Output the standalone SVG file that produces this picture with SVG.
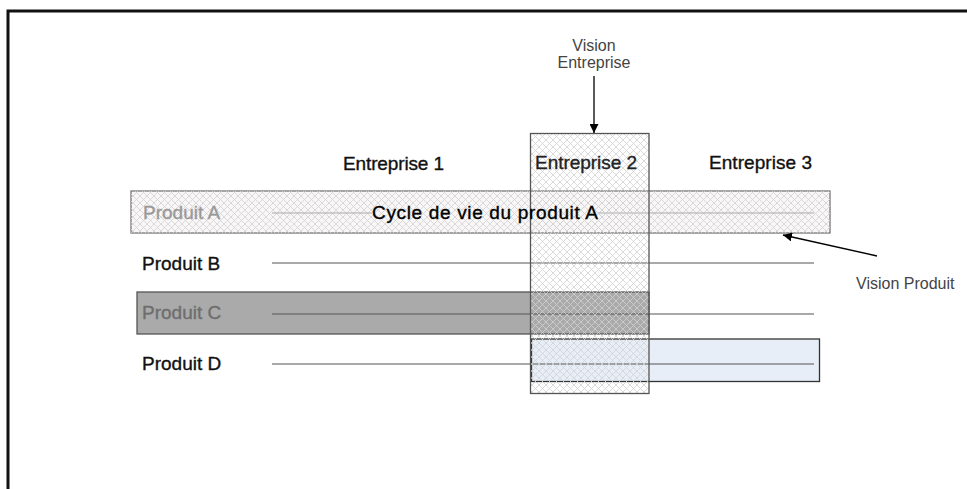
<svg xmlns="http://www.w3.org/2000/svg" width="967" height="489" viewBox="0 0 967 489">
<defs>
<pattern id="hatch" width="7" height="7" patternUnits="userSpaceOnUse">
<path d="M0,0 L7,7 M7,0 L0,7" stroke="#d2d2d2" stroke-width="0.8" fill="none"/>
</pattern>
<marker id="arr" viewBox="0 0 10 10" refX="10" refY="5" markerWidth="9" markerHeight="9" markerUnits="userSpaceOnUse" orient="auto">
<path d="M0,0 L10,5 L0,10 z" fill="#000"/>
</marker>
</defs>
<style>
.lbl{font-family:"Liberation Sans",Arial,sans-serif;font-size:19px;stroke-width:0.35}
.note{font-family:"Liberation Sans",Arial,sans-serif;font-size:16px;fill:#444}
.life{stroke:#555;stroke-width:1.2}
</style>
<rect x="0" y="0" width="967" height="489" fill="#fff"/>
<path d="M8,489 L8,11 L967,11" fill="none" stroke="#111" stroke-width="3"/>

<g id="produit-a">
<rect x="131" y="191" width="699" height="42" fill="#f8f6f6" stroke="#777" stroke-width="1.3"/>
<rect x="131" y="191" width="699" height="42" fill="url(#hatch)"/>
<text class="lbl" x="143" y="219" fill="#999" stroke="#999">Produit A</text>
</g>
<g id="produit-c">
<rect x="137" y="292" width="512" height="42" fill="#aaaaaa" stroke="#555" stroke-width="1.3"/>
<text class="lbl" x="142" y="319" fill="#6e6e6e" stroke="#6e6e6e">Produit C</text>
</g>
<g id="produit-d">
<rect x="531.5" y="339" width="288" height="42.5" fill="#e7eef7" stroke="#333" stroke-width="1.3"/>
<text class="lbl" x="142" y="370" fill="#111" stroke="#111">Produit D</text>
</g>
<g id="produit-b">
<text class="lbl" x="142" y="270" fill="#111" stroke="#111">Produit B</text>
</g>

<g id="lifelines">
<line x1="272" y1="213" x2="372" y2="213" stroke="#aaa" stroke-width="1.2"/>
<line x1="598" y1="213" x2="814" y2="213" stroke="#aaa" stroke-width="1.2"/>
<line class="life" x1="272" y1="263" x2="814" y2="263"/>
<line class="life" x1="272" y1="314" x2="814" y2="314"/>
<line class="life" x1="272" y1="364" x2="814" y2="364"/>
</g>

<g id="entreprise-2">
<rect x="530.5" y="133.5" width="118.5" height="260" fill="url(#hatch)" stroke="#555" stroke-width="1.3"/>
<text class="lbl" x="535" y="169" fill="#222" stroke="#222" textLength="102">Entreprise 2</text>
</g>
<g id="entreprise-1">
<text class="lbl" x="343" y="170" fill="#111" stroke="#111" textLength="101">Entreprise 1</text>
</g>
<g id="entreprise-3">
<text class="lbl" x="709" y="169" fill="#111" stroke="#111" textLength="103">Entreprise 3</text>
</g>
<g id="cycle">
<text class="lbl" x="372" y="219" fill="#000" stroke="#000" textLength="226">Cycle de vie du produit A</text>
</g>
<g id="vision-entreprise">
<text class="note" x="594" y="51" text-anchor="middle">Vision</text>
<text class="note" x="594" y="68" text-anchor="middle">Entreprise</text>
</g>
<g id="vision-produit">
<text class="note" x="856" y="289">Vision Produit</text>
</g>

<g id="connectors">
<line x1="594" y1="76" x2="594" y2="133" stroke="#000" stroke-width="1.3" marker-end="url(#arr)"/>
<line x1="877" y1="256" x2="783" y2="235" stroke="#000" stroke-width="1.3" marker-end="url(#arr)"/>
</g>
</svg>
